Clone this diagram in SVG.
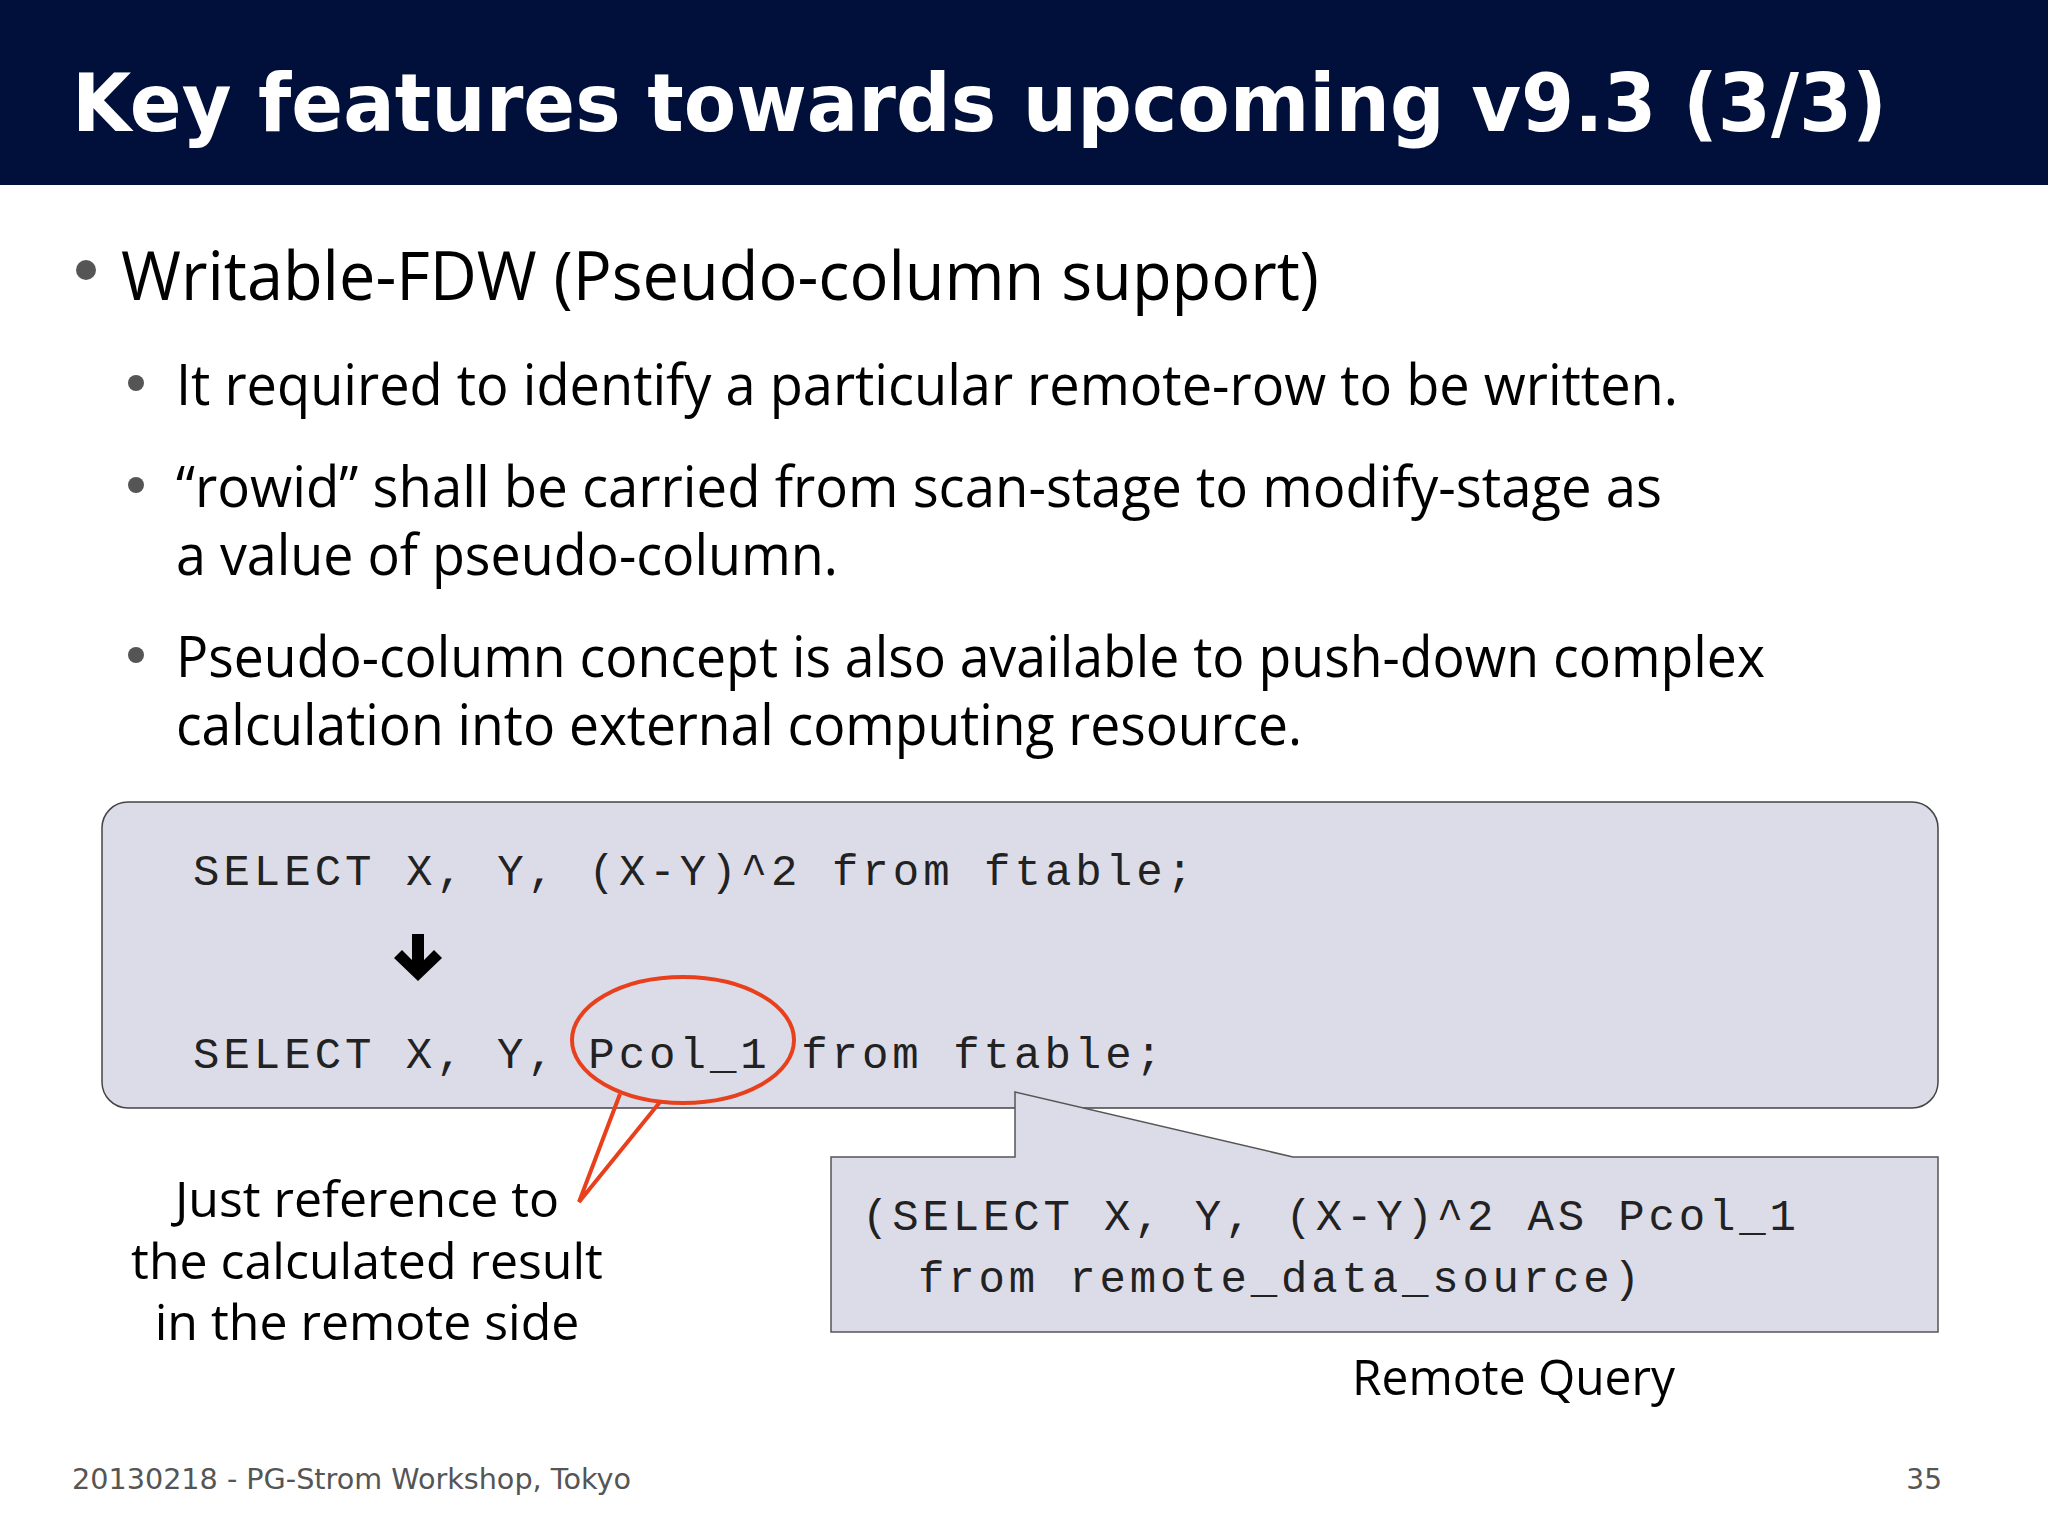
<svg xmlns="http://www.w3.org/2000/svg" width="2048" height="1536" viewBox="0 0 2048 1536">
<style>
.t{font-family:"Open Sans","Liberation Sans",sans-serif;fill:#000}
.c{font-family:"Liberation Mono","DejaVu Sans Mono",monospace;fill:#222;font-size:44px}
.dot{fill:#555}
</style>
<rect x="0" y="0" width="2048" height="1536" fill="#fff"/>
<g id="header">
<rect x="0" y="0" width="2048" height="185" fill="#01103a"/>
<text x="72" y="131" font-family="DejaVu Sans,Verdana,sans-serif" font-weight="bold" font-size="80" fill="#fff" textLength="1815" lengthAdjust="spacingAndGlyphs">Key features towards upcoming v9.3 (3/3)</text>
</g>
<g id="bullets">
<circle class="dot" cx="86" cy="270" r="10"/>
<text class="t" x="121" y="300" font-size="68" textLength="1198" lengthAdjust="spacingAndGlyphs">Writable-FDW (Pseudo-column support)</text>
<circle class="dot" cx="136" cy="383" r="8"/>
<text class="t" x="176" y="405" font-size="57" textLength="1502" lengthAdjust="spacingAndGlyphs">It required to identify a particular remote-row to be written.</text>
<circle class="dot" cx="136" cy="485" r="8"/>
<text class="t" x="176" y="507" font-size="57" textLength="1486" lengthAdjust="spacingAndGlyphs">“rowid” shall be carried from scan-stage to modify-stage as</text>
<text class="t" x="176" y="575" font-size="57" textLength="662" lengthAdjust="spacingAndGlyphs">a value of pseudo-column.</text>
<circle class="dot" cx="136" cy="655" r="8"/>
<text class="t" x="176" y="677" font-size="57" textLength="1589" lengthAdjust="spacingAndGlyphs">Pseudo-column concept is also available to push-down complex</text>
<text class="t" x="176" y="745" font-size="57" textLength="1126" lengthAdjust="spacingAndGlyphs">calculation into external computing resource.</text>
</g>
<g id="query-box">
<rect x="102" y="802" width="1836" height="306" rx="26" fill="#dcdce8" stroke="#444" stroke-width="1.5"/>
<text class="c" x="193" y="885" textLength="1000" lengthAdjust="spacing">SELECT X, Y, (X-Y)^2 from ftable;</text>
<path d="M412,934 h12 v26 l10,-10 l8,8 l-24,23 l-24,-23 l8,-8 l10,10 z" fill="#000"/>
<text class="c" x="193" y="1068" textLength="969" lengthAdjust="spacing">SELECT X, Y, Pcol_1 from ftable;</text>
</g>
<g id="callout">
<ellipse cx="683" cy="1040" rx="111" ry="63" fill="none" stroke="#e8401c" stroke-width="4"/>
<polyline points="620,1094 579,1202 660,1102" fill="none" stroke="#e8401c" stroke-width="4" stroke-linejoin="miter"/>
<text class="t" x="367" y="1217" font-size="50" text-anchor="middle">Just reference to</text>
<text class="t" x="367" y="1279" font-size="50" text-anchor="middle">the calculated result</text>
<text class="t" x="367" y="1340" font-size="50" text-anchor="middle">in the remote side</text>
</g>
<g id="remote">
<path d="M831,1157 L1015,1157 L1015,1092 L1293,1157 L1938,1157 L1938,1332 L831,1332 Z" fill="#dcdce8" stroke="#555" stroke-width="1.5"/>
<text class="c" x="862" y="1230" textLength="934" lengthAdjust="spacing">(SELECT X, Y, (X-Y)^2 AS Pcol_1</text>
<text class="c" x="918" y="1292" textLength="722" lengthAdjust="spacing">from remote_data_source)</text>
<text class="t" x="1352" y="1395" font-size="50" textLength="323" lengthAdjust="spacingAndGlyphs">Remote Query</text>
</g>
<g id="footer">
<text x="72" y="1489" font-family="DejaVu Sans,Verdana,sans-serif" font-size="28" fill="#555" textLength="559" lengthAdjust="spacingAndGlyphs">20130218 - PG-Strom Workshop, Tokyo</text>
<text x="1942" y="1489" font-family="DejaVu Sans,Verdana,sans-serif" font-size="28" fill="#555" text-anchor="end">35</text>
</g>
</svg>
